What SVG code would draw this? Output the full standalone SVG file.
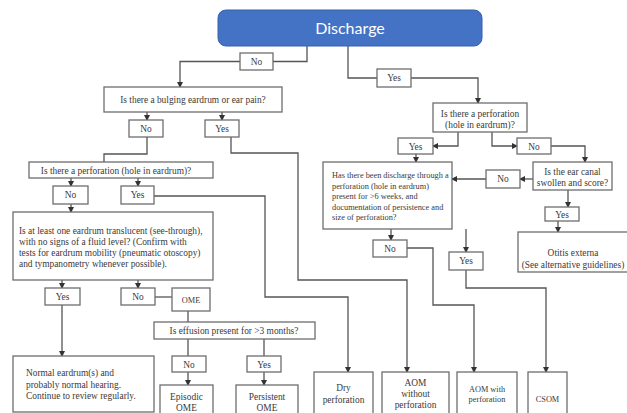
<svg xmlns="http://www.w3.org/2000/svg" width="627" height="413" viewBox="0 0 627 413">
<defs>
<marker id="ah" markerUnits="userSpaceOnUse" markerWidth="6" markerHeight="6" refX="5" refY="3" orient="auto">
<path d="M0,0 L6,3 L0,6 Z" fill="#333"/>
</marker>
<style>
.b{fill:#fff;stroke:#6e6e6e;stroke-width:1.3}
.t{font-family:"Liberation Serif","Times New Roman",serif;font-size:9.4px;fill:#3a3a3a}
.c{text-anchor:middle}
.s{font-size:8.3px}
.l{fill:none;stroke:#555;stroke-width:1.3}
.a{marker-end:url(#ah)}
</style>
</defs>
<rect width="627" height="413" fill="#fff"/>
<g id="connectors">
<path class="l" d="M307,46 V61.5 H273"/>
<path class="l a" d="M240,61.5 H180 V87"/>
<path class="l a" d="M147,112 V120"/>
<path class="l a" d="M222,112 V120"/>
<path class="l" d="M147,137 V154 H104 V162"/>
<path class="l a" d="M231,137 V153 H298 V280 H407 V372"/>
<path class="l a" d="M71,178 V186"/>
<path class="l a" d="M138,178 V186"/>
<path class="l a" d="M71,204 V212"/>
<path class="l a" d="M154,196 H265 V297 H348 V372"/>
<path class="l a" d="M62,280 V288"/>
<path class="l a" d="M138,280 V288"/>
<path class="l a" d="M62,305 V356"/>
<path class="l" d="M155,297 H172"/>
<path class="l" d="M188,311 V322"/>
<path class="l" d="M188,339 V356"/>
<path class="l" d="M264,339 V356"/>
<path class="l a" d="M188,372 V385"/>
<path class="l a" d="M264,372 V385"/>
<path class="l" d="M348,46 V78 H377"/>
<path class="l a" d="M411,78 H478 V103"/>
<path class="l a" d="M458,132 V146 H433"/>
<path class="l a" d="M492,132 V146 H517"/>
<path class="l a" d="M551,146 H585 V162"/>
<path class="l a" d="M533,179 H520"/>
<path class="l a" d="M486,179 H452"/>
<path class="l a" d="M416,154 V162"/>
<path class="l a" d="M391,229 V240"/>
<path class="l a" d="M466,229 V252"/>
<path class="l a" d="M407,248 H433 V305 H474 V372"/>
<path class="l a" d="M466,270 V288 H546 V372"/>
<path class="l a" d="M568,190 V207"/>
<path class="l a" d="M558,221 V232"/>
</g>
<g id="discharge">
<rect x="218" y="10" width="264" height="36" rx="8" fill="#4472C4" stroke="#3461b0" stroke-width="1"/>
<text x="350" y="33.5" text-anchor="middle" font-family="Lato,'Open Sans',sans-serif" font-size="16" fill="#fff">Discharge</text>
</g>
<g id="no-top"><rect class="b" x="240" y="53" width="33" height="17"/><text class="t c" x="256.5" y="65">No</text></g>
<g id="yes-top"><rect class="b" x="377" y="69" width="34" height="18"/><text class="t c" x="394" y="81">Yes</text></g>
<g id="q-bulging"><rect class="b" x="104" y="87" width="178" height="25"/><text class="t c" x="193" y="103">Is there a bulging eardrum or ear pain?</text></g>
<g id="no-1"><rect class="b" x="129" y="120" width="34" height="17"/><text class="t c" x="146" y="132">No</text></g>
<g id="yes-1"><rect class="b" x="205" y="120" width="34" height="17"/><text class="t c" x="222" y="132">Yes</text></g>
<g id="q-perf-left"><rect class="b" x="29" y="162" width="184" height="16"/><text class="t c" x="116" y="174">Is there a perforation (hole in eardrum)?</text></g>
<g id="no-2"><rect class="b" x="53" y="186" width="35" height="18"/><text class="t c" x="70.5" y="198">No</text></g>
<g id="yes-2"><rect class="b" x="121" y="186" width="33" height="18"/><text class="t c" x="137.5" y="198">Yes</text></g>
<g id="q-translucent"><rect class="b" x="13" y="212" width="200" height="68"/>
<text class="t" x="19" y="234">Is at least one eardrum translucent (see-through),</text>
<text class="t" x="19" y="245">with no signs of a fluid level? (Confirm with</text>
<text class="t" x="19" y="255.5">tests for eardrum mobility (pneumatic otoscopy)</text>
<text class="t" x="19" y="266.5">and tympanometry whenever possible).</text></g>
<g id="yes-3"><rect class="b" x="45" y="288" width="35" height="17"/><text class="t c" x="62.5" y="300">Yes</text></g>
<g id="no-3"><rect class="b" x="121" y="288" width="34" height="17"/><text class="t c" x="138" y="300">No</text></g>
<g id="ome"><rect class="b" x="172" y="288" width="38" height="23"/><text class="t c s" x="191" y="303">OME</text></g>
<g id="q-effusion"><rect class="b" x="154" y="322" width="161" height="17"/><text class="t c" x="234" y="334">Is effusion present for &gt;3 months?</text></g>
<g id="no-4"><rect class="b" x="172" y="356" width="34" height="16"/><text class="t c" x="189" y="368">No</text></g>
<g id="yes-4"><rect class="b" x="247" y="356" width="34" height="16"/><text class="t c" x="264" y="368">Yes</text></g>
<g id="normal"><rect class="b" x="13" y="356" width="141" height="56"/>
<text class="t" x="26" y="376">Normal eardrum(s) and</text>
<text class="t" x="26" y="387.5">probably normal hearing.</text>
<text class="t" x="26" y="399">Continue to review regularly.</text></g>
<g id="episodic"><rect class="b" x="160" y="385" width="53" height="35"/><text class="t c" x="186.5" y="400">Episodic</text><text class="t c" x="186.5" y="411">OME</text></g>
<g id="persistent"><rect class="b" x="236" y="385" width="62" height="35"/><text class="t c" x="267" y="400">Persistent</text><text class="t c" x="267" y="411">OME</text></g>
<g id="dry"><rect class="b" x="314" y="372" width="59" height="50"/><text class="t c" x="343.5" y="391">Dry</text><text class="t c" x="343.5" y="403">perforation</text></g>
<g id="aom-without"><rect class="b" x="382" y="372" width="67" height="50"/><text class="t c" x="415.5" y="386">AOM</text><text class="t c" x="415.5" y="397">without</text><text class="t c" x="415.5" y="408">perforation</text></g>
<g id="aom-with"><rect class="b" x="457" y="372" width="60" height="50"/><text class="t c s" x="487" y="392">AOM with</text><text class="t c s" x="487" y="402">perforation</text></g>
<g id="csom"><rect class="b" x="528" y="372" width="39" height="50"/><text class="t c s" x="547.5" y="402">CSOM</text></g>
<g id="q-perf-right"><rect class="b" x="433" y="103" width="94" height="29"/><text class="t c" x="480" y="117">Is there a perforation</text><text class="t c" x="480" y="127.5">(hole in eardrum)?</text></g>
<g id="yes-5"><rect class="b" x="398" y="138" width="35" height="16"/><text class="t c" x="415.5" y="150">Yes</text></g>
<g id="no-5"><rect class="b" x="517" y="138" width="34" height="16"/><text class="t c" x="534" y="150">No</text></g>
<g id="q-canal"><rect class="b" x="533" y="162" width="79" height="28"/><text class="t c" x="572.5" y="175">Is the ear canal</text><text class="t c" x="572.5" y="186">swollen and score?</text></g>
<g id="no-6"><rect class="b" x="486" y="170" width="34" height="18"/><text class="t c" x="503" y="182">No</text></g>
<g id="q-discharge"><rect class="b" x="323" y="162" width="129" height="67"/>
<text class="t s" x="332" y="178">Has there been discharge through a</text>
<text class="t s" x="332" y="188.5">perforation (hole in eardrum)</text>
<text class="t s" x="332" y="199">present for &gt;6 weeks, and</text>
<text class="t s" x="332" y="209.5">documentation of persistence and</text>
<text class="t s" x="332" y="220">size of perforation?</text></g>
<g id="no-7"><rect class="b" x="373" y="240" width="34" height="17"/><text class="t c" x="390" y="252">No</text></g>
<g id="yes-6"><rect class="b" x="449" y="252" width="34" height="18"/><text class="t c" x="466" y="264">Yes</text></g>
<g id="yes-7"><rect class="b" x="545" y="207" width="34" height="14"/><text class="t c" x="562" y="217.5">Yes</text></g>
<g id="otitis"><rect class="b" x="518" y="232" width="115" height="40"/><text class="t c" x="573" y="256">Otitis externa</text><text class="t c" x="573" y="268">(See alternative guidelines)</text></g>
</svg>
